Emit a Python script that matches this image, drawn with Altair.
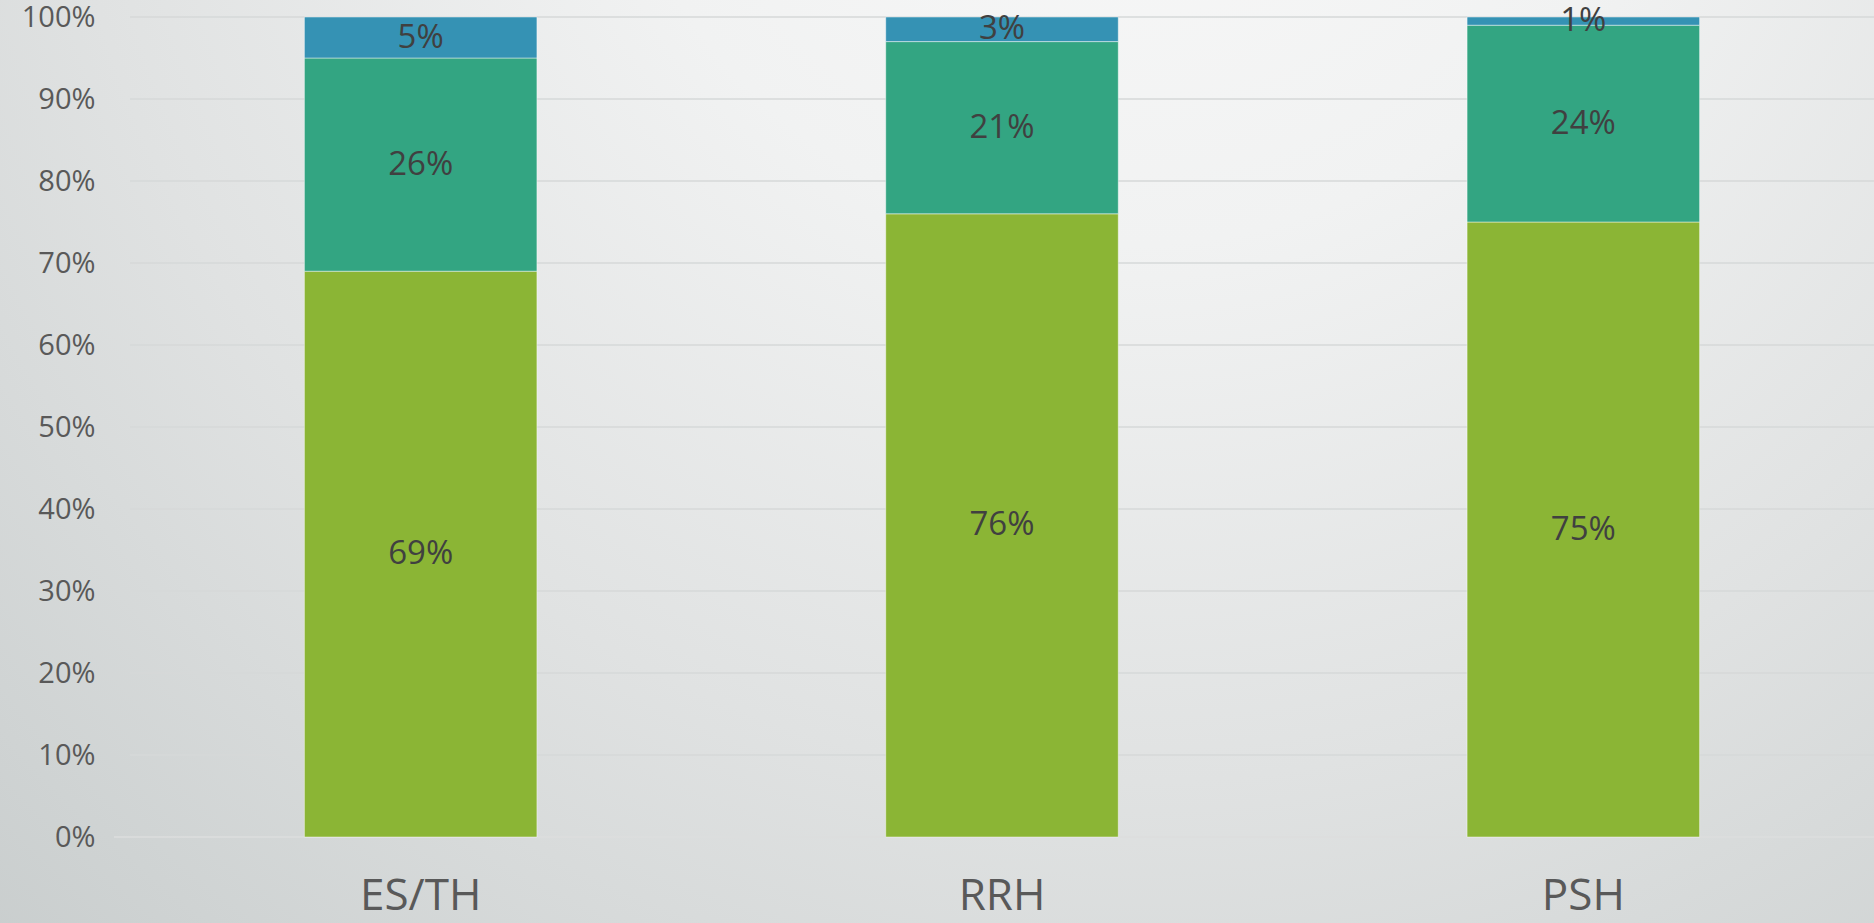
import altair as alt
import pandas as pd

# Stacked shares per housing type (percent)
categories = ["ES/TH", "RRH", "PSH"]
series = ["Group 1", "Group 2", "Group 3"]
group1 = [69, 76, 75]
group2 = [26, 21, 24]
group3 = [5, 3, 1]
colors = ["#8BB535", "#33A582", "#3592B4"]
ticks = [i / 10 for i in range(11)]

rows = []
for ci, cat in enumerate(categories):
    for si, vals in enumerate([group1, group2, group3]):
        rows.append({"cat": cat, "series": series[si], "idx": si, "value": vals[ci]})
df = pd.DataFrame(rows)

W, H = 1744, 820
PAD_L, PAD_T, PAD_B = 130, 17, 86
FONT = "Open Sans"

# Soft radial background behind the whole chart
bg = alt.Chart(pd.DataFrame({"a": [0]})).mark_rect(
    fill={
        "gradient": "radial",
        "x1": 0.6, "y1": 0.1, "r1": 0.0,
        "x2": 0.6, "y2": 0.1, "r2": 0.95,
        "stops": [
            {"offset": 0.0, "color": "#F9F9F9"},
            {"offset": 0.3, "color": "#F1F2F2"},
            {"offset": 0.6, "color": "#E0E2E2"},
            {"offset": 0.85, "color": "#CFD3D3"},
            {"offset": 1.0, "color": "#C5CACA"},
        ],
    }
).encode(
    x=alt.value(-PAD_L), x2=alt.value(W + 10),
    y=alt.value(-PAD_T), y2=alt.value(H + PAD_B),
)

yscale = alt.Scale(domain=[0, 1], nice=False)
yaxis = alt.Axis(
    title=None, values=ticks, format=".0%", domain=False, ticks=False,
    grid=False, labelFont=FONT, labelFontSize=29, labelColor="#595959",
    labelPadding=35, zindex=1,
)

grid = alt.Chart(pd.DataFrame({"t": ticks[1:]})).mark_rule(
    color="#D6D8D8", strokeWidth=1.5
).encode(
    y=alt.Y("t:Q", scale=yscale, axis=yaxis),
    x=alt.value(0), x2=alt.value(W),
)

baseline = alt.Chart(pd.DataFrame({"t": [0.0]})).mark_rule(
    color="#DCDEDE", strokeWidth=1.5
).encode(
    y=alt.Y("t:Q", scale=yscale),
    x=alt.value(-16), x2=alt.value(W),
)

base = alt.Chart(df).transform_stack(
    stack="value", groupby=["cat"], as_=["s0", "s1"],
    sort=[alt.SortField("idx", order="ascending")],
).transform_calculate(
    y0="datum.s0 / 100", y1="datum.s1 / 100",
    mid="(datum.s0 + datum.s1) / 200",
    label="datum.value + '%'",
)

xenc = alt.X(
    "cat:N", sort=categories,
    scale=alt.Scale(paddingInner=0.6, paddingOuter=0.3),
    axis=alt.Axis(
        title=None, domain=False, ticks=False, labelAngle=0,
        labelFont=FONT, labelFontSize=44, labelColor="#595959",
        labelPadding=37, labelBaseline="top", zindex=1,
    ),
)

bars = base.mark_bar(stroke="#FFFFFF", strokeWidth=1, strokeOpacity=0.45).encode(
    x=xenc,
    y=alt.Y("y0:Q", scale=yscale),
    y2="y1:Q",
    color=alt.Color("series:N", scale=alt.Scale(domain=series, range=colors), legend=None),
)

labels = base.mark_text(
    font=FONT, fontSize=33, color="#404040", baseline="middle", align="center"
).encode(
    x=alt.X("cat:N", sort=categories),
    y=alt.Y("mid:Q", scale=yscale),
    text="label:N",
)

chart = alt.layer(bg, grid, baseline, bars, labels).properties(
    width=W, height=H,
    padding={"left": PAD_L, "top": PAD_T, "right": 0, "bottom": PAD_B},
    autosize=alt.AutoSizeParams(type="none"),
    background="#E6E8E8",
).configure_view(stroke=None)

chart.save("out.html", embed_options={"renderer": "svg", "actions": False})
